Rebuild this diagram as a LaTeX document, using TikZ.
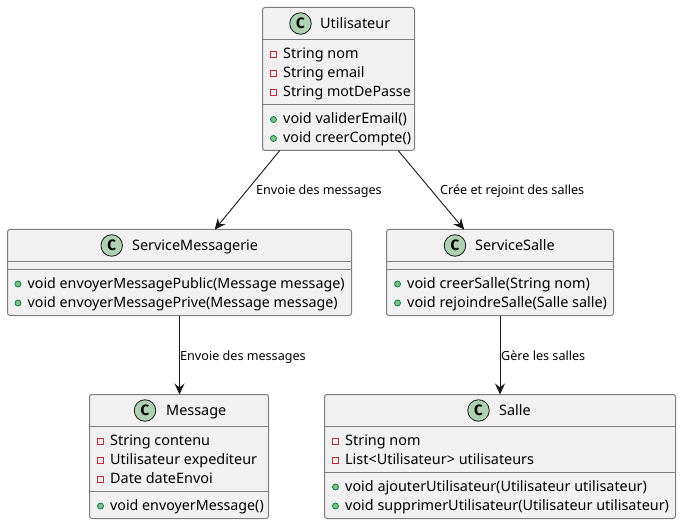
\documentclass[tikz,border=0pt]{standalone}
\usepackage{fontspec}
\setmainfont{Noto Sans}
\newfontfamily\spotfont{Fira Sans}
\usetikzlibrary{arrows.meta}
\definecolor{boxfill}{HTML}{F1F1F1}
\definecolor{ink}{HTML}{181818}
\definecolor{edgegrey}{HTML}{7E7E7E}
\definecolor{spot}{HTML}{ADD1B2}
\definecolor{privred}{HTML}{C82930}
\definecolor{pubgreen}{HTML}{038048}
\definecolor{pubfill}{HTML}{84BE84}
\tikzset{
  x=1pt,y=-1pt,
  classbox/.style={draw=edgegrey,line width=1pt,fill=boxfill,rounded corners=2.5pt,inner sep=0pt,outer sep=0pt},
  sepline/.style={draw=edgegrey,line width=1pt},
  spotc/.style={circle,draw=ink,line width=0.8pt,fill=spot,minimum size=21.5pt,inner sep=0pt,font=\fontsize{15}{15}\selectfont\spotfont\bfseries},
  title/.style={anchor=base west,inner sep=0pt,font=\fontsize{14.4}{14.4}\selectfont},
  member/.style={anchor=base west,inner sep=0pt,font=\fontsize{14.4}{14.4}\selectfont},
  edgelabel/.style={anchor=base west,inner sep=0pt,font=\fontsize{12.6}{12.6}\selectfont},
  privmark/.style={draw=privred,line width=1pt,minimum size=6pt,inner sep=0pt},
  pubmark/.style={circle,draw=pubgreen,fill=pubfill,line width=0.8pt,minimum size=6pt,inner sep=0pt},
  link/.style={draw=ink,line width=0.9pt,-{Stealth[length=11pt,width=10pt,inset=4pt]}},
}
\newcommand{\tight}[1]{{\fontsize{14.25}{14.25}\selectfont #1}}
% #1 name, #2 left x, #3 baseline y, #4 text
\newcommand{\privrow}[4]{\node[privmark] at (#2+11,#3-4) {}; \node[member] (#1) at (#2+20.5,#3) {#4};}
\newcommand{\pubrow}[4]{\node[pubmark] at (#2+11,#3-4) {}; \node[member] (#1) at (#2+20.5,#3) {#4};}
\begin{document}
\begin{tikzpicture}
\useasboundingbox (0,0) rectangle (681,524);

\node[classbox,minimum width=152pt,minimum height=143pt] (u) at (338.5,79) {};
\node[classbox,minimum width=344pt,minimum height=86pt] (sm) at (179.5,272.5) {};
\node[classbox,minimum width=227pt,minimum height=86pt] (ss) at (500,272.5) {};
\node[classbox,minimum width=179pt,minimum height=124pt] (m) at (179,456.5) {};
\node[classbox,minimum width=351pt,minimum height=124pt] (s) at (500,456.5) {};

\draw[link] (u) -- (sm);
\draw[link] (u) -- (ss);
\draw[link] (sm) -- (sm |- m.north);
\draw[link] (ss) -- (s);

\node[edgelabel] (l1) at (256,195) {Envoie des messages};
\node[edgelabel] (l2) at (440,195) {Crée et rejoint des salles};
\node[edgelabel] (l3) at (180,360) {Envoie des messages};
\node[edgelabel] (l4) at (501,360) {Gère les salles};

% Utilisateur
\node[spotc] (uc) at (300.5,23.5) {C};
\node[title] (ut) at (320,28.5) {Utilisateur};
\draw[sepline] (u.west |- 0,39.5) -- (u.east |- 0,39.5);
\privrow{u1}{262.5}{58.5}{String nom}
\privrow{u2}{262.5}{77.5}{String email}
\privrow{u3}{262.5}{96.5}{\tight{String motDePasse}}
\draw[sepline] (u.west |- 0,104.5) -- (u.east |- 0,104.5);
\pubrow{u4}{262.5}{123.5}{void validerEmail()}
\pubrow{u5}{262.5}{142.5}{\tight{void creerCompte()}}

% ServiceMessagerie
\node[spotc] (smc) at (111.7,245.5) {C};
\node[title] (smt) at (132,250.5) {ServiceMessagerie};
\draw[sepline] (sm.west |- 0,261.5) -- (sm.east |- 0,261.5);
\draw[sepline] (sm.west |- 0,269.5) -- (sm.east |- 0,269.5);
\pubrow{sm1}{7}{288}{\tight{void envoyerMessagePublic(Message message)}}
\pubrow{sm2}{7}{307}{\tight{void envoyerMessagePrive(Message message)}}

% ServiceSalle
\node[spotc] (ssc) at (455,245.5) {C};
\node[title] (sst) at (475,250.5) {ServiceSalle};
\draw[sepline] (ss.west |- 0,261.5) -- (ss.east |- 0,261.5);
\draw[sepline] (ss.west |- 0,269.5) -- (ss.east |- 0,269.5);
\pubrow{ss1}{386.5}{288}{void creerSalle(String nom)}
\pubrow{ss2}{386.5}{307}{void rejoindreSalle(Salle salle)}

% Message
\node[spotc] (mc) at (145,410.5) {C};
\node[title] (mt) at (166,415.5) {Message};
\draw[sepline] (m.west |- 0,426.5) -- (m.east |- 0,426.5);
\privrow{m1}{89.5}{445.5}{String contenu}
\privrow{m2}{89.5}{464.5}{Utilisateur expediteur}
\privrow{m3}{89.5}{483.5}{Date dateEnvoi}
\draw[sepline] (m.west |- 0,491.5) -- (m.east |- 0,491.5);
\pubrow{m4}{89.5}{510}{\tight{void envoyerMessage()}}

% Salle
\node[spotc] (sc) at (478.5,410.5) {C};
\node[title] (st) at (499,415.5) {Salle};
\draw[sepline] (s.west |- 0,426.5) -- (s.east |- 0,426.5);
\privrow{s1}{324.5}{445.5}{String nom}
\privrow{s2}{324.5}{464.5}{List<Utilisateur> utilisateurs}
\draw[sepline] (s.west |- 0,472.5) -- (s.east |- 0,472.5);
\pubrow{s3}{324.5}{491}{void ajouterUtilisateur(Utilisateur utilisateur)}
\pubrow{s4}{324.5}{510}{void supprimerUtilisateur(Utilisateur utilisateur)}
\end{tikzpicture}
\end{document}
